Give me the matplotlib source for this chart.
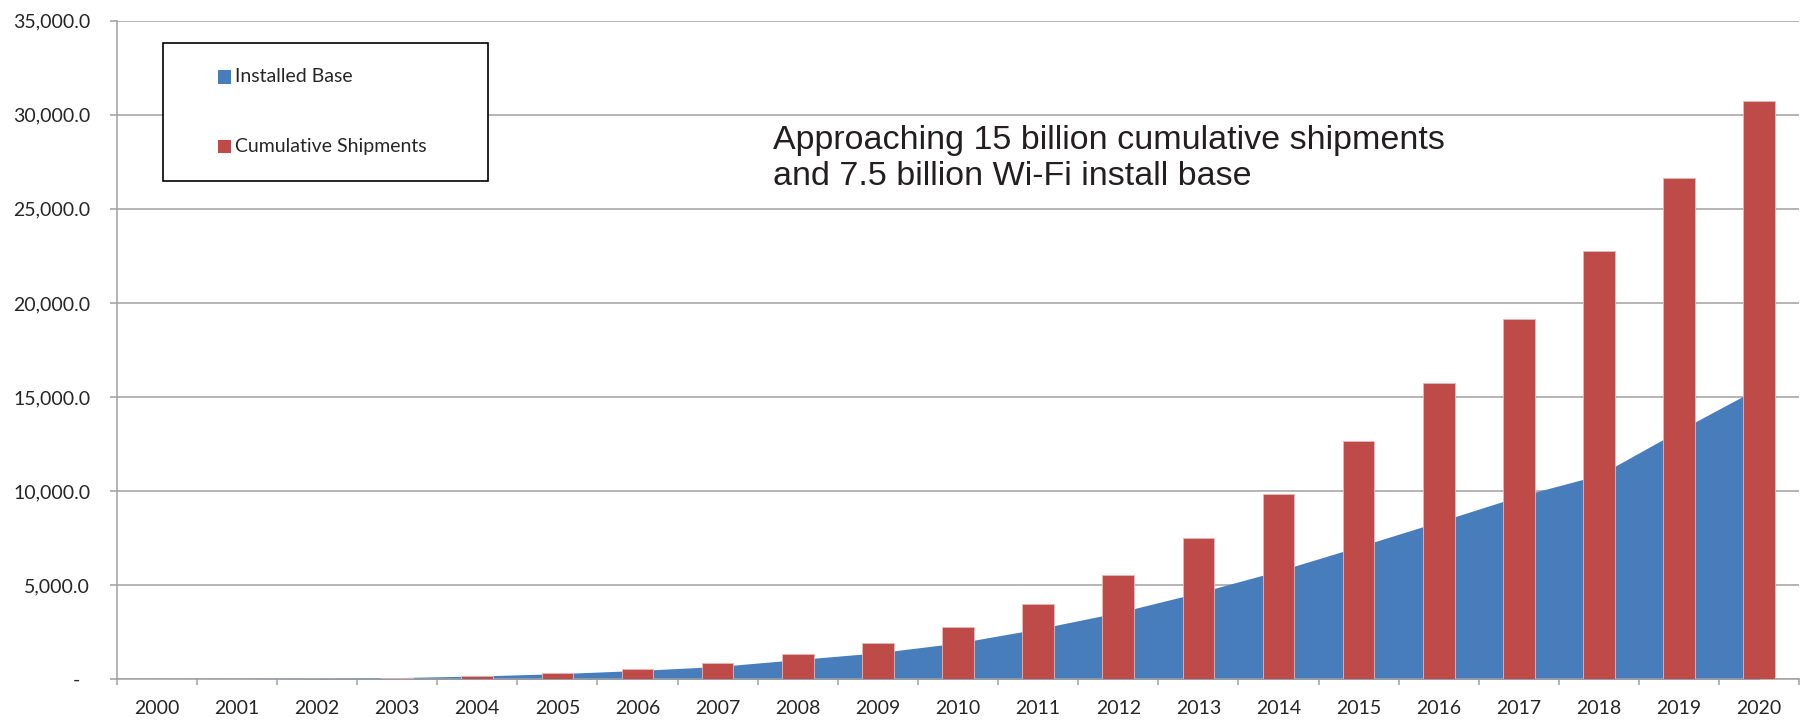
import numpy as np
import matplotlib
matplotlib.use('Agg')
import matplotlib.pyplot as plt
from matplotlib.patches import Rectangle
from matplotlib.ticker import FuncFormatter, MultipleLocator, FixedLocator

# values
years = [str(y) for y in range(2000, 2021)]
installed_base = [0, 10, 40, 90, 175, 300, 470, 680, 1050, 1410, 1930,
                  2680, 3550, 4600, 5760, 7050, 8370, 9720, 10850, 13220, 15500]
cumulative = [0, 10, 30, 90, 170, 320, 530, 850, 1330, 1950, 2790,
              3990, 5550, 7500, 9840, 12650, 15740, 19130, 22770, 26650, 30750]
series_names = ['Installed Base', 'Cumulative Shipments']
note = 'Approaching 15 billion cumulative shipments\nand 7.5 billion Wi-Fi install base'

blue = '#467DBA'
red = '#BE4B48'
grid_c = '#A0A0A0'
txt_c = '#262626'

plt.rcParams['font.family'] = ['Lato', 'DejaVu Sans']

fig = plt.figure(figsize=(18.06, 7.2), dpi=100)
ax = fig.add_axes([0.0646, 0.0565, 0.9317, 0.9148])

x = np.arange(len(years))
ax.fill_between(x, installed_base, 0, color=blue, linewidth=0, zorder=2)
ax.bar(x, cumulative, width=0.395, color=red, edgecolor='#E6B9B8',
       linewidth=0.6, zorder=3)

ax.set_xlim(-0.5, len(years) - 0.5)
ax.set_ylim(0, 35000)
ax.yaxis.set_major_locator(MultipleLocator(5000))
ax.yaxis.set_major_formatter(FuncFormatter(
    lambda v, _: '-  ' if v == 0 else f'{v:,.1f}'))
ax.grid(axis='y', color=grid_c, linewidth=1.1, zorder=0)
ax.set_axisbelow(True)

ax.set_xticks(x)
ax.set_xticklabels(years)
ax.xaxis.set_minor_locator(FixedLocator(np.arange(-0.5, len(years), 1)))
ax.tick_params(axis='x', which='major', length=0, pad=15, labelsize=14, labelcolor=txt_c)
ax.tick_params(axis='x', which='minor', length=4.5, width=1.1, color=grid_c, direction='out')
ax.tick_params(axis='y', length=5, width=1.1, color=grid_c, pad=14, labelsize=14, labelcolor=txt_c)

for s in ['top', 'right']:
    ax.spines[s].set_visible(False)
for s in ['left', 'bottom']:
    ax.spines[s].set_color(grid_c)
    ax.spines[s].set_linewidth(1.1)

# legend box, placed in figure pixels like the original
W, H = 1806, 720
def fx(px): return px / W
def fy(py): return 1 - py / H

fig.add_artist(Rectangle((fx(163), fy(181)), fx(488) - fx(163), fy(43) - fy(181),
                         transform=fig.transFigure, facecolor='white',
                         edgecolor='black', linewidth=1.2, zorder=5))
for name, col, cy in zip(series_names, [blue, red], [77, 146.5]):
    fig.add_artist(Rectangle((fx(218), fy(cy + 6.5)), fx(13), 13 / H,
                             transform=fig.transFigure, facecolor=col,
                             edgecolor='none', zorder=6))
    fig.text(fx(235), fy(cy), name, fontsize=14, color=txt_c,
             va='center', ha='left', zorder=6)

# baseline of the second line
fig.text(fx(773), fy(185), note, family=['Liberation Sans', 'DejaVu Sans'],
         fontsize=24.5, color='#231F20', ha='left', va='baseline', linespacing=1.2)

fig.savefig('out.png', dpi=100)
